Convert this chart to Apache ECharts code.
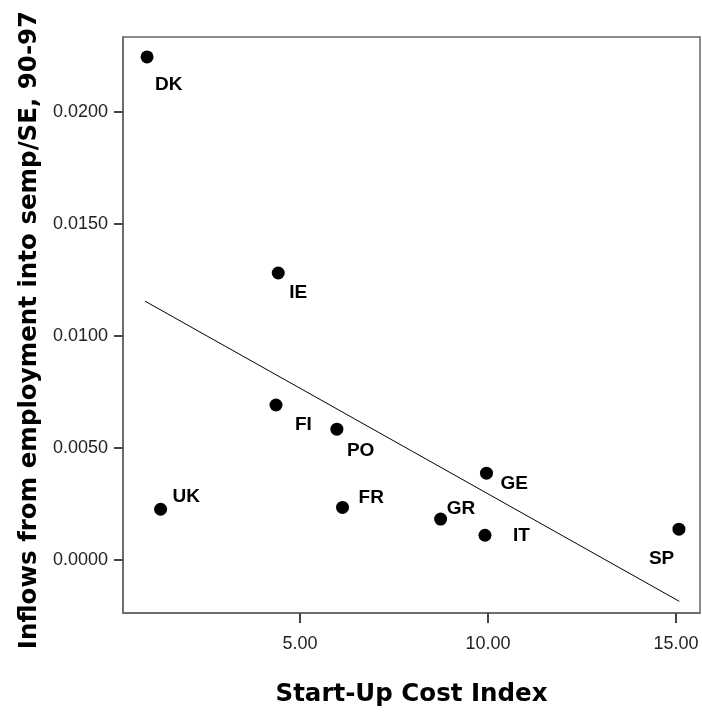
<!DOCTYPE html>
<html>
<head>
<meta charset="utf-8">
<script src="https://cdn.jsdelivr.net/npm/echarts@6/dist/echarts.min.js"></script>
<style>html,body{margin:0;padding:0;background:#fff;}#chart{width:702px;height:712px;}</style>
</head>
<body>
<div id="chart"></div>
<script>
// ---- data ----
const countries   = ['DK', 'IE', 'FI', 'PO', 'UK', 'FR', 'GE', 'GR', 'IT', 'SP'];
const startUpCost = [0.93, 4.42, 4.36, 5.98, 1.29, 6.13, 9.96, 8.74, 9.92, 15.08];
const inflows     = [0.02245, 0.01281, 0.00692, 0.00584, 0.00227, 0.00235, 0.00388, 0.00183, 0.00111, 0.00138];
// fitted line end points (as drawn)
const fitX = [0.88, 15.09];
const fitY = [0.01155, -0.00184];
const xTicks = [5, 10, 15];
const yTicks = [0, 0.005, 0.01, 0.015, 0.02];

// ---- styling: label offsets from each dot centre ----
const labelOffsets = {
  DK: [8, 28], IE: [11, 20], FI: [19, 20], PO: [10, 22], UK: [12, -12],
  FR: [16, -10], GE: [14, 11], GR: [6, -10], IT: [28, 1], SP: [-30, 30]
};

const scatterData = countries.map((c, i) => ({
  value: [startUpCost[i], inflows[i]],
  name: c,
  label: { offset: labelOffsets[c] }
}));
const fitData = fitX.map((x, i) => [x, fitY[i]]);

const chart = echarts.init(document.getElementById('chart'), null, { renderer: 'canvas' });
chart.setOption({
  animation: false,
  backgroundColor: '#fff',
  grid: { left: 123, top: 37, right: 2, bottom: 99, show: true, borderColor: '#666', borderWidth: 1.5, containLabel: false },
  xAxis: {
    type: 'value', min: 0.29, max: 15.64,
    name: 'Start-Up Cost Index', nameLocation: 'middle', nameGap: 69,
    nameTextStyle: { fontFamily: 'DejaVu Sans', fontWeight: 'bold', fontSize: 24.5, color: '#000' },
    axisLine: { show: true, onZero: false, lineStyle: { color: '#666', width: 1.5 } },
    axisTick: { show: true, length: 10, lineStyle: { color: '#444', width: 2 }, customValues: xTicks },
    axisLabel: { customValues: xTicks, margin: 22, fontFamily: 'Liberation Sans', fontSize: 18, color: '#222',
      formatter: v => v.toFixed(2) },
    splitLine: { show: false }
  },
  yAxis: {
    type: 'value', min: -0.00236, max: 0.02334,
    name: 'Inflows from employment into semp/SE, 90-97', nameLocation: 'middle', nameGap: 77,
    nameTextStyle: { fontFamily: 'DejaVu Sans', fontWeight: 'bold', fontSize: 24.5, color: '#000', padding: [0, 10, 0, 0] },
    axisLine: { show: true, onZero: false, lineStyle: { color: '#666', width: 1.5 } },
    axisTick: { show: true, length: 9, lineStyle: { color: '#444', width: 2 }, customValues: yTicks },
    axisLabel: { customValues: yTicks, margin: 15, fontFamily: 'Liberation Sans', fontSize: 18, color: '#222',
      formatter: v => v.toFixed(4) },
    splitLine: { show: false }
  },
  series: [
    {
      type: 'line', data: fitData, symbol: 'none', silent: true,
      lineStyle: { color: '#000', width: 1 }, z: 2
    },
    {
      type: 'scatter', data: scatterData, symbol: 'circle', symbolSize: 13,
      itemStyle: { color: '#000', opacity: 1 }, z: 3,
      label: {
        show: true, position: 'inside', align: 'left', verticalAlign: 'middle',
        formatter: p => p.name,
        fontFamily: 'Liberation Sans', fontWeight: 'bold', fontSize: 19, color: '#000', opacity: 1
      }
    }
  ]
});
</script>
</body>
</html>
